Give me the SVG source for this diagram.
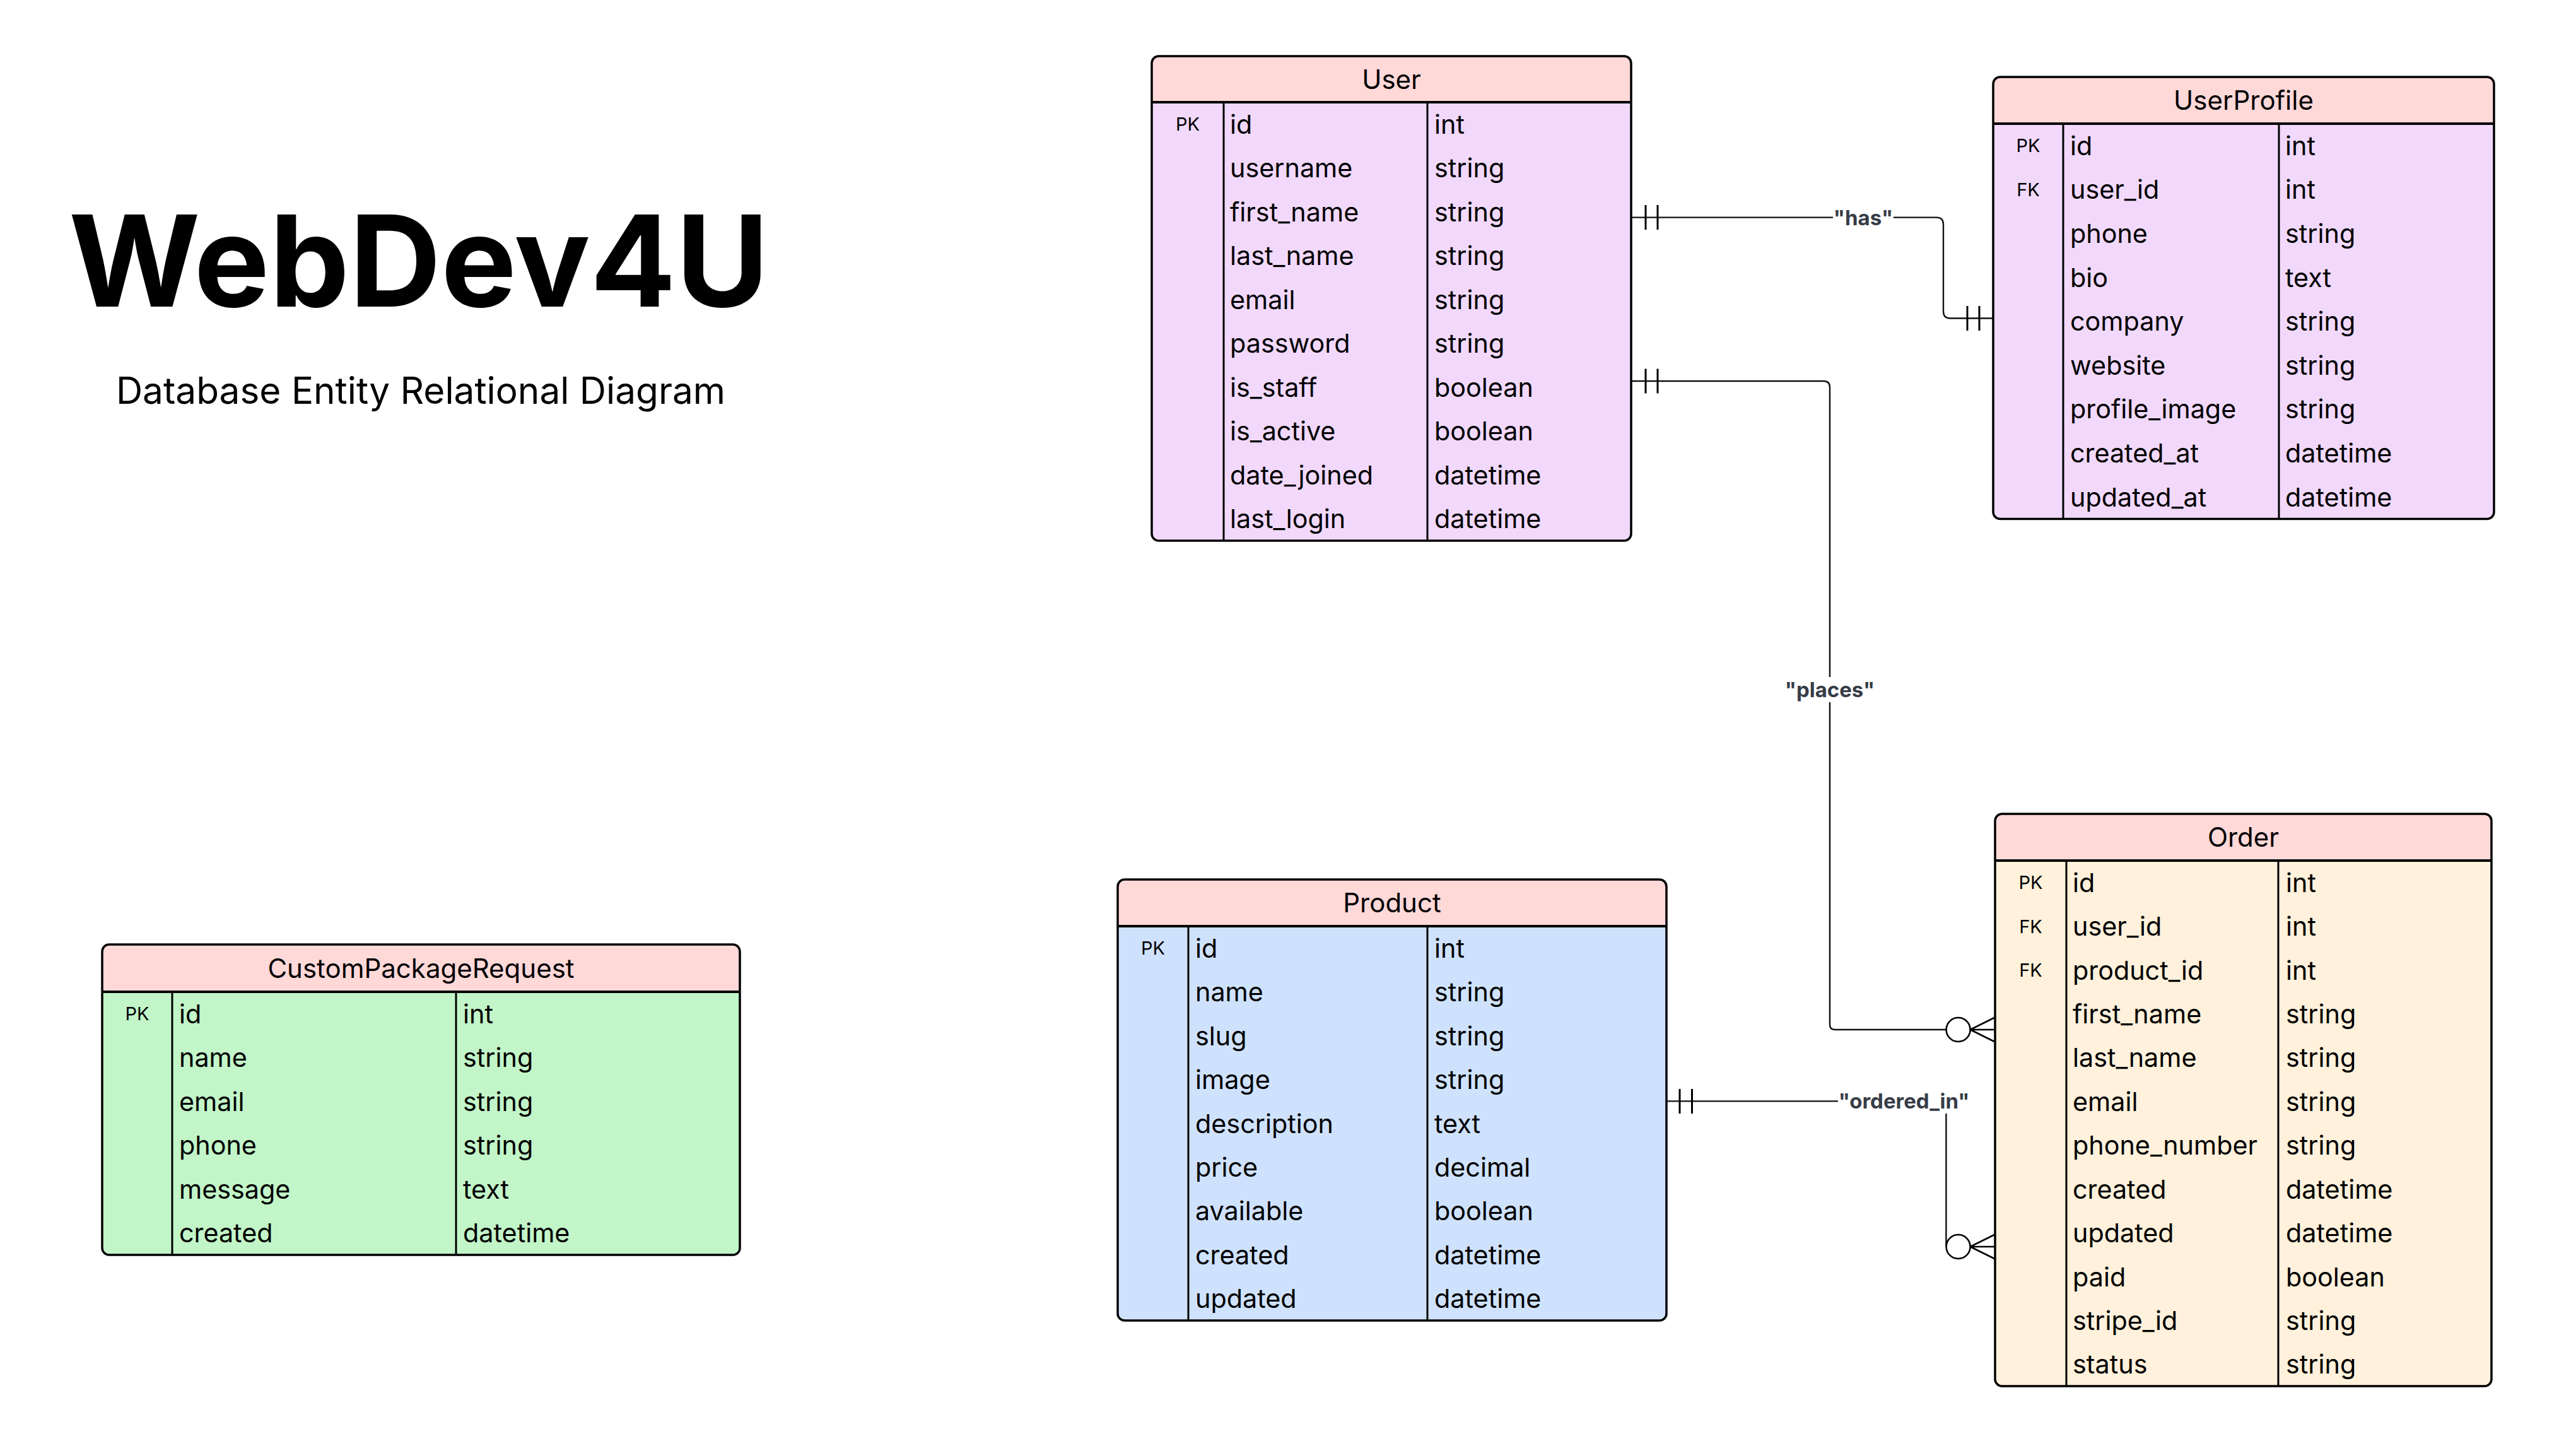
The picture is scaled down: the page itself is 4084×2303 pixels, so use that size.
<svg xmlns="http://www.w3.org/2000/svg" width="4084" height="2303" viewBox="0 0 4084 2303">
<style>
text{font-family:Inter,"Liberation Sans",sans-serif;fill:#000}
.f{font-size:41.3px}
.k{font-size:29px;text-anchor:middle}
.h{font-size:42px;text-anchor:middle}
.hdr{fill:#FFD8D8}
.ol{fill:none;stroke:#000;stroke-width:3.5}
.dv{stroke:#000;stroke-width:3}
.sep{stroke:#000;stroke-width:4}
.conn{fill:none;stroke:#111;stroke-width:2.4}
.bar{stroke:#000;stroke-width:3}
.circ{fill:#fff;stroke:#000;stroke-width:2.6}
.crow{fill:none;stroke:#000;stroke-width:2.6}
.lbg{fill:#fff}
.lbl{font-size:33px;font-weight:700;fill:#363c47;text-anchor:middle}
</style>
<rect width="4084" height="2303" fill="#fff"/>
<g id="title">
<text x="664" y="486" font-size="201" font-weight="700" text-anchor="middle">WebDev4U</text>
<text x="667" y="640" font-size="58.5" text-anchor="middle">Database Entity Relational Diagram</text>
</g>
<g id="connectors">
<g id="conn-has">
<path class="conn" d="M2587 344.6 H3070 Q3081 344.6 3081 355.6 V493.5 Q3081 504.5 3092 504.5 H3159"/>
<line class="bar" x1="2609" y1="325" x2="2609" y2="364"/>
<line class="bar" x1="2628" y1="325" x2="2628" y2="364"/>
<line class="bar" x1="3119" y1="485" x2="3119" y2="524"/>
<line class="bar" x1="3138" y1="485" x2="3138" y2="524"/>
<rect class="lbg" x="2906" y="325" width="96" height="40"/>
<text class="lbl" x="2954" y="357">"has"</text>
</g>
<g id="conn-places">
<path class="conn" d="M2587 604 H2891 Q2901 604 2901 614 V1624 Q2901 1632 2909 1632 H3086"/>
<line class="bar" x1="2609" y1="584.5" x2="2609" y2="623.5"/>
<line class="bar" x1="2628" y1="584.5" x2="2628" y2="623.5"/>
<circle class="circ" cx="3104.6" cy="1632" r="19"/>
<path class="crow" d="M3123.6 1632 L3162 1613 M3123.6 1632 H3162 M3123.6 1632 L3162 1651"/>
<rect class="lbg" x="2830" y="1073" width="142" height="40"/>
<text class="lbl" x="2901" y="1105">"places"</text>
</g>
<g id="conn-ordered-in">
<path class="conn" d="M2642 1745.4 H3085.4 V1976"/>
<line class="bar" x1="2663" y1="1726" x2="2663" y2="1765"/>
<line class="bar" x1="2682.5" y1="1726" x2="2682.5" y2="1765"/>
<circle class="circ" cx="3104.6" cy="1976" r="19"/>
<path class="crow" d="M3123.6 1976 L3162 1957 M3123.6 1976 H3162 M3123.6 1976 L3162 1995"/>
<rect class="lbg" x="2914" y="1725" width="209" height="40"/>
<text class="lbl" x="3018.6" y="1757">"ordered_in"</text>
</g>
</g>
<g id="node-user">
<rect x="1826" y="89" width="760" height="768" rx="11" fill="#F2D9FC"/>
<path class="hdr" d="M1826 162 V100 Q1826 89 1837 89 H2575 Q2586 89 2586 100 V162 Z"/>
<line class="sep" x1="1826" y1="162" x2="2586" y2="162"/>
<line class="dv" x1="1940" y1="162" x2="1940" y2="857"/>
<line class="dv" x1="2263" y1="162" x2="2263" y2="857"/>
<rect class="ol" x="1826" y="89" width="760" height="768" rx="11"/>
<text class="h" x="2206" y="140.5">User</text>
<text class="k" x="1883" y="207">PK</text>
<text class="f" x="1950" y="212">id</text><text class="f" x="2274" y="212">int</text>
<text class="f" x="1950" y="281">username</text><text class="f" x="2274" y="281">string</text>
<text class="f" x="1950" y="351">first_name</text><text class="f" x="2274" y="351">string</text>
<text class="f" x="1950" y="420">last_name</text><text class="f" x="2274" y="420">string</text>
<text class="f" x="1950" y="490">email</text><text class="f" x="2274" y="490">string</text>
<text class="f" x="1950" y="559">password</text><text class="f" x="2274" y="559">string</text>
<text class="f" x="1950" y="629">is_staff</text><text class="f" x="2274" y="629">boolean</text>
<text class="f" x="1950" y="698">is_active</text><text class="f" x="2274" y="698">boolean</text>
<text class="f" x="1950" y="768">date_joined</text><text class="f" x="2274" y="768">datetime</text>
<text class="f" x="1950" y="837">last_login</text><text class="f" x="2274" y="837">datetime</text>
</g>
<g id="node-userprofile">
<rect x="3160" y="122" width="794" height="700.5" rx="11" fill="#F2D9FC"/>
<path class="hdr" d="M3160 196 V133 Q3160 122 3171 122 H3943 Q3954 122 3954 133 V196 Z"/>
<line class="sep" x1="3160" y1="196" x2="3954" y2="196"/>
<line class="dv" x1="3271" y1="196" x2="3271" y2="822.5"/>
<line class="dv" x1="3613" y1="196" x2="3613" y2="822.5"/>
<rect class="ol" x="3160" y="122" width="794" height="700.5" rx="11"/>
<text class="h" x="3557" y="174">UserProfile</text>
<text class="k" x="3215.5" y="241.3">PK</text>
<text class="k" x="3215.5" y="310.9">FK</text>
<text class="f" x="3282" y="245.8">id</text><text class="f" x="3623" y="245.8">int</text>
<text class="f" x="3282" y="315.4">user_id</text><text class="f" x="3623" y="315.4">int</text>
<text class="f" x="3282" y="385">phone</text><text class="f" x="3623" y="385">string</text>
<text class="f" x="3282" y="454.6">bio</text><text class="f" x="3623" y="454.6">text</text>
<text class="f" x="3282" y="524.2">company</text><text class="f" x="3623" y="524.2">string</text>
<text class="f" x="3282" y="593.8">website</text><text class="f" x="3623" y="593.8">string</text>
<text class="f" x="3282" y="663.4">profile_image</text><text class="f" x="3623" y="663.4">string</text>
<text class="f" x="3282" y="733">created_at</text><text class="f" x="3623" y="733">datetime</text>
<text class="f" x="3282" y="802.6">updated_at</text><text class="f" x="3623" y="802.6">datetime</text>
</g>
<g id="node-product">
<rect x="1772" y="1394" width="870" height="699" rx="11" fill="#CFE2FD"/>
<path class="hdr" d="M1772 1468 V1405 Q1772 1394 1783 1394 H2631 Q2642 1394 2642 1405 V1468 Z"/>
<line class="sep" x1="1772" y1="1468" x2="2642" y2="1468"/>
<line class="dv" x1="1884" y1="1468" x2="1884" y2="2093"/>
<line class="dv" x1="2263" y1="1468" x2="2263" y2="2093"/>
<rect class="ol" x="1772" y="1394" width="870" height="699" rx="11"/>
<text class="h" x="2207" y="1446">Product</text>
<text class="k" x="1828" y="1513.2">PK</text>
<text class="f" x="1895" y="1517.7">id</text><text class="f" x="2274" y="1517.7">int</text>
<text class="f" x="1895" y="1587.2">name</text><text class="f" x="2274" y="1587.2">string</text>
<text class="f" x="1895" y="1656.6">slug</text><text class="f" x="2274" y="1656.6">string</text>
<text class="f" x="1895" y="1726.1">image</text><text class="f" x="2274" y="1726.1">string</text>
<text class="f" x="1895" y="1795.5">description</text><text class="f" x="2274" y="1795.5">text</text>
<text class="f" x="1895" y="1864.9">price</text><text class="f" x="2274" y="1864.9">decimal</text>
<text class="f" x="1895" y="1934.4">available</text><text class="f" x="2274" y="1934.4">boolean</text>
<text class="f" x="1895" y="2003.8">created</text><text class="f" x="2274" y="2003.8">datetime</text>
<text class="f" x="1895" y="2073.3">updated</text><text class="f" x="2274" y="2073.3">datetime</text>
</g>
<g id="node-order">
<rect x="3163" y="1290" width="787" height="907" rx="11" fill="#FFF1DB"/>
<path class="hdr" d="M3163 1364 V1301 Q3163 1290 3174 1290 H3939 Q3950 1290 3950 1301 V1364 Z"/>
<line class="sep" x1="3163" y1="1364" x2="3950" y2="1364"/>
<line class="dv" x1="3276" y1="1364" x2="3276" y2="2197"/>
<line class="dv" x1="3612" y1="1364" x2="3612" y2="2197"/>
<rect class="ol" x="3163" y="1290" width="787" height="907" rx="11"/>
<text class="h" x="3556.5" y="1342">Order</text>
<text class="k" x="3219.5" y="1409.2">PK</text>
<text class="k" x="3219.5" y="1478.6">FK</text>
<text class="k" x="3219.5" y="1548">FK</text>
<text class="f" x="3286" y="1413.7">id</text><text class="f" x="3624" y="1413.7">int</text>
<text class="f" x="3286" y="1483.1">user_id</text><text class="f" x="3624" y="1483.1">int</text>
<text class="f" x="3286" y="1552.5">product_id</text><text class="f" x="3624" y="1552.5">int</text>
<text class="f" x="3286" y="1622">first_name</text><text class="f" x="3624" y="1622">string</text>
<text class="f" x="3286" y="1691.4">last_name</text><text class="f" x="3624" y="1691.4">string</text>
<text class="f" x="3286" y="1760.8">email</text><text class="f" x="3624" y="1760.8">string</text>
<text class="f" x="3286" y="1830.2">phone_number</text><text class="f" x="3624" y="1830.2">string</text>
<text class="f" x="3286" y="1899.6">created</text><text class="f" x="3624" y="1899.6">datetime</text>
<text class="f" x="3286" y="1969">updated</text><text class="f" x="3624" y="1969">datetime</text>
<text class="f" x="3286" y="2038.5">paid</text><text class="f" x="3624" y="2038.5">boolean</text>
<text class="f" x="3286" y="2107.9">stripe_id</text><text class="f" x="3624" y="2107.9">string</text>
<text class="f" x="3286" y="2177.3">status</text><text class="f" x="3624" y="2177.3">string</text>
</g>
<g id="node-custompackagerequest">
<rect x="162" y="1497" width="1011" height="492" rx="11" fill="#C2F5C8"/>
<path class="hdr" d="M162 1572 V1508 Q162 1497 173 1497 H1162 Q1173 1497 1173 1508 V1572 Z"/>
<line class="sep" x1="162" y1="1572" x2="1173" y2="1572"/>
<line class="dv" x1="273" y1="1572" x2="273" y2="1989"/>
<line class="dv" x1="723" y1="1572" x2="723" y2="1989"/>
<rect class="ol" x="162" y="1497" width="1011" height="492" rx="11"/>
<text class="h" x="667.5" y="1549.5">CustomPackageRequest</text>
<text class="k" x="217.5" y="1617.2">PK</text>
<text class="f" x="284" y="1621.7">id</text><text class="f" x="734" y="1621.7">int</text>
<text class="f" x="284" y="1691.2">name</text><text class="f" x="734" y="1691.2">string</text>
<text class="f" x="284" y="1760.7">email</text><text class="f" x="734" y="1760.7">string</text>
<text class="f" x="284" y="1830.2">phone</text><text class="f" x="734" y="1830.2">string</text>
<text class="f" x="284" y="1899.7">message</text><text class="f" x="734" y="1899.7">text</text>
<text class="f" x="284" y="1969.2">created</text><text class="f" x="734" y="1969.2">datetime</text>
</g>
</svg>
